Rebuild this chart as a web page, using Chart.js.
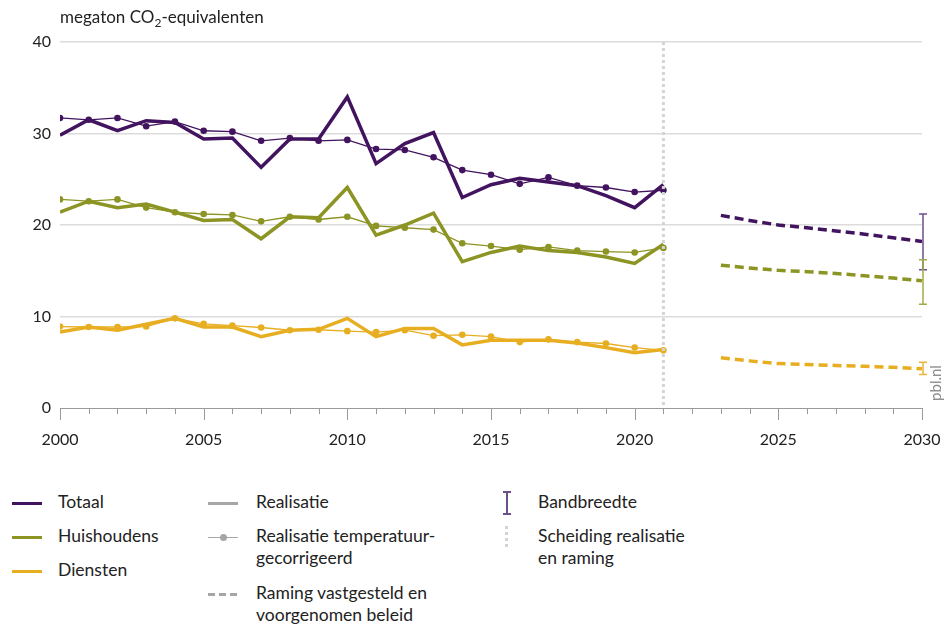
<!DOCTYPE html>
<html lang="nl">
<head>
  <meta charset="utf-8">
  <title>Broeikasgasemissie gebouwde omgeving</title>
  <script src="https://cdn.jsdelivr.net/npm/chart.js@4/dist/chart.umd.min.js"></script>
  <style>
  body { margin: 0; background: #fff; font-family: Lato, "Open Sans", sans-serif; color: #222; }
  #wrap { position: relative; width: 946px; height: 628px; overflow: hidden; }
  #chart { position: absolute; left: 0; top: 0; }
  .title { position: absolute; left: 60px; top: 6px; font-size: 17px; }
  .title sub { font-size: 12px; vertical-align: -4px; line-height: 0; }
  .pbl { position: absolute; left: 917px; top: 374px; font-size: 15px; color: #8a8a8a;
         transform: rotate(-90deg); transform-origin: center; width: 36px; text-align: center; }
  .lg { position: absolute; font-size: 17.5px; line-height: 22px; }
  .sw { position: absolute; height: 3px; width: 30px; }
  </style>
</head>
<body>
<div id="wrap">
  <canvas id="chart" width="946" height="470"></canvas>
  <div class="title">megaton CO<sub>2</sub>-equivalenten</div>
  <div class="pbl">pbl.nl</div>

  <div class="sw" style="left:12px;top:502px;background:#42145f"></div>
  <div class="lg" style="left:58px;top:491px">Totaal</div>
  <div class="sw" style="left:12px;top:536px;background:#8c9424"></div>
  <div class="lg" style="left:58px;top:525px">Huishoudens</div>
  <div class="sw" style="left:12px;top:570px;background:#e8ae21"></div>
  <div class="lg" style="left:58px;top:559px">Diensten</div>

  <div class="sw" style="left:208px;top:502px;background:#a6a6a6"></div>
  <div class="lg" style="left:256px;top:491px">Realisatie</div>
  <div class="sw" style="left:208px;top:537px;height:1px;background:#a6a6a6"></div>
  <div style="position:absolute;left:220px;top:534px;width:7px;height:7px;border-radius:50%;background:#a6a6a6"></div>
  <div class="lg" style="left:256px;top:525px">Realisatie temperatuur-<br>gecorrigeerd</div>
  <div class="sw" style="left:208px;top:593px;background:repeating-linear-gradient(90deg,#a6a6a6 0 7px,transparent 7px 11px)"></div>
  <div class="lg" style="left:256px;top:582px">Raming vastgesteld en<br>voorgenomen beleid</div>

  <div style="position:absolute;left:506px;top:492px;width:1.5px;height:22px;background:#6d4f8c"></div>
  <div style="position:absolute;left:503px;top:491px;width:8px;height:1.5px;background:#6d4f8c"></div>
  <div style="position:absolute;left:503px;top:513px;width:8px;height:1.5px;background:#6d4f8c"></div>
  <div class="lg" style="left:538px;top:491px">Bandbreedte</div>
  <div style="position:absolute;left:505px;top:526px;width:3px;height:24px;background:repeating-linear-gradient(180deg,#d4d4d4 0 3px,transparent 3px 6px)"></div>
  <div class="lg" style="left:538px;top:525px">Scheiding realisatie<br>en raming</div>
</div>

<script>
var years = [2000, 2001, 2002, 2003, 2004, 2005, 2006, 2007, 2008, 2009, 2010,
  2011, 2012, 2013, 2014, 2015, 2016, 2017, 2018, 2019, 2020, 2021];
var projYears = [2023, 2024, 2025, 2026, 2027, 2028, 2029, 2030];

var totaal = [29.8, 31.5, 30.3, 31.4, 31.2, 29.4, 29.5, 26.3, 29.4, 29.4, 34.0,
  26.7, 28.9, 30.1, 23.0, 24.4, 25.1, 24.7, 24.3, 23.2, 21.9, 24.4];
var totaalTemp = [31.7, 31.5, 31.7, 30.8, 31.3, 30.3, 30.2, 29.2, 29.5, 29.2, 29.3,
  28.3, 28.2, 27.4, 26.0, 25.5, 24.5, 25.2, 24.3, 24.1, 23.6, 23.8];
var totaalProj = [21.05, 20.5, 20.0, 19.7, 19.35, 19.0, 18.6, 18.2];

var huish = [21.4, 22.6, 21.9, 22.3, 21.4, 20.5, 20.6, 18.5, 20.9, 20.8, 24.1,
  18.9, 20.0, 21.3, 16.0, 17.0, 17.7, 17.2, 17.0, 16.5, 15.8, 17.9];
var huishTemp = [22.8, 22.6, 22.8, 21.9, 21.4, 21.2, 21.1, 20.4, 20.9, 20.6, 20.9,
  19.9, 19.7, 19.5, 18.0, 17.7, 17.3, 17.6, 17.2, 17.1, 17.0, 17.5];
var huishProj = [15.6, 15.3, 15.05, 14.9, 14.7, 14.45, 14.2, 13.9];

var diensten = [8.3, 8.85, 8.5, 9.15, 9.8, 8.85, 8.85, 7.8, 8.5, 8.6, 9.8,
  7.8, 8.7, 8.7, 6.9, 7.4, 7.4, 7.4, 7.1, 6.6, 6.05, 6.4];
var dienstenTemp = [8.9, 8.85, 8.85, 8.9, 9.8, 9.2, 9.0, 8.8, 8.5, 8.55, 8.4,
  8.3, 8.5, 7.9, 8.0, 7.8, 7.2, 7.5, 7.2, 7.05, 6.6, 6.3];
var dienstenProj = [5.5, 5.15, 4.85, 4.75, 4.65, 4.55, 4.45, 4.3];

// bandbreedte 2030: [laag, hoog]
var bandYear = 2030;
var bandTotaal = [15.1, 21.2];
var bandHuish = [11.35, 16.2];
var bandDiensten = [3.65, 5.0];

var splitYear = 2021;

var purple = '#42145f', olive = '#8c9424', yellow = '#e8ae21';

function pts(xs, ys) {
  return xs.map(function (x, i) { return { x: x, y: ys[i] }; });
}
function thick(data, color) {
  return { data: data, borderColor: color, backgroundColor: color, borderWidth: 3.5,
    pointRadius: 0, tension: 0, borderJoinStyle: 'miter' };
}
function thin(data, color) {
  return { data: data, borderColor: color, backgroundColor: color, borderWidth: 1.3,
    pointRadius: 3.3, pointBorderWidth: 0, tension: 0 };
}
function dashed(data, color) {
  return { data: data, borderColor: color, borderWidth: 3.5, borderDash: [9, 5],
    pointRadius: 0, tension: 0 };
}

var bandPlugin = {
  id: 'band',
  afterDatasetsDraw: function (chart) {
    var ctx = chart.ctx, xs = chart.scales.x, ys = chart.scales.y;
    var x = xs.getPixelForValue(bandYear) + 1;
    [[bandTotaal, '#6d4f8c'], [bandHuish, '#a4aa45'], [bandDiensten, '#eeb53a']].forEach(function (b) {
      var y1 = ys.getPixelForValue(b[0][0]), y2 = ys.getPixelForValue(b[0][1]);
      ctx.save();
      ctx.strokeStyle = b[1];
      ctx.lineWidth = 1.5;
      ctx.beginPath();
      ctx.moveTo(x, y1); ctx.lineTo(x, y2);
      ctx.moveTo(x - 4, y1); ctx.lineTo(x + 4, y1);
      ctx.moveTo(x - 4, y2); ctx.lineTo(x + 4, y2);
      ctx.stroke();
      ctx.restore();
    });
    // scheiding realisatie en raming
    var sx = xs.getPixelForValue(splitYear);
    ctx.save();
    ctx.strokeStyle = '#d4d4d4';
    ctx.lineWidth = 3;
    ctx.setLineDash([3, 3]);
    ctx.beginPath();
    ctx.moveTo(sx, chart.chartArea.top);
    ctx.lineTo(sx, chart.chartArea.bottom);
    ctx.stroke();
    ctx.restore();
  },
  afterDraw: function (chart) {
    var ctx = chart.ctx, xs = chart.scales.x, bottom = chart.chartArea.bottom;
    ctx.save();
    ctx.strokeStyle = '#9a9a9a';
    ctx.lineWidth = 1;
    ctx.beginPath();
    for (var yr = 2000; yr <= 2030; yr++) {
      var x = Math.round(xs.getPixelForValue(yr)) + 0.5;
      ctx.moveTo(x, bottom);
      ctx.lineTo(x, bottom + (yr % 5 === 0 ? 12 : 6));
    }
    ctx.stroke();
    ctx.restore();
  }
};

var config = {
  type: 'line',
  data: {
    datasets: [
      thin(pts(years, totaalTemp), purple),
      thin(pts(years, huishTemp), olive),
      thin(pts(years, dienstenTemp), yellow),
      thick(pts(years, totaal), purple),
      thick(pts(years, huish), olive),
      thick(pts(years, diensten), yellow),
      dashed(pts(projYears, totaalProj), purple),
      dashed(pts(projYears, huishProj), olive),
      dashed(pts(projYears, dienstenProj), yellow)
    ]
  },
  options: {
    responsive: false,
    animation: false,
    layout: { padding: { top: 42, right: 24, left: 0, bottom: 0 } },
    plugins: { legend: { display: false }, tooltip: { enabled: false } },
    scales: {
      x: {
        type: 'linear', min: 2000, max: 2030,
        afterFit: function (s) { s.height = 62; s.paddingLeft = 0; s.paddingRight = 0; },
        border: { display: true, color: '#9a9a9a', width: 1 },
        grid: { drawOnChartArea: false, drawTicks: false },
        ticks: {
          stepSize: 5, padding: 22, maxRotation: 0,
          color: '#222', font: { family: 'Lato', size: 16 },
          callback: function (v) { return String(v); }
        }
      },
      y: {
        min: 0, max: 40,
        afterFit: function (s) { s.width = 60; s.paddingTop = 0; s.paddingBottom = 0; },
        border: { display: false },
        grid: {
          drawTicks: false, lineWidth: 1.5,
          color: function (c) { return c.tick && c.tick.value === 0 ? 'rgba(0,0,0,0)' : '#dcdcdc'; }
        },
        ticks: { stepSize: 10, padding: 9, color: '#222', font: { family: 'Lato', size: 16 } }
      }
    }
  },
  plugins: [bandPlugin]
};

window.onload = function () {
  var ctx = document.getElementById('chart').getContext('2d');
  window.myChart = new Chart(ctx, config);
};
</script>
</body>
</html>
